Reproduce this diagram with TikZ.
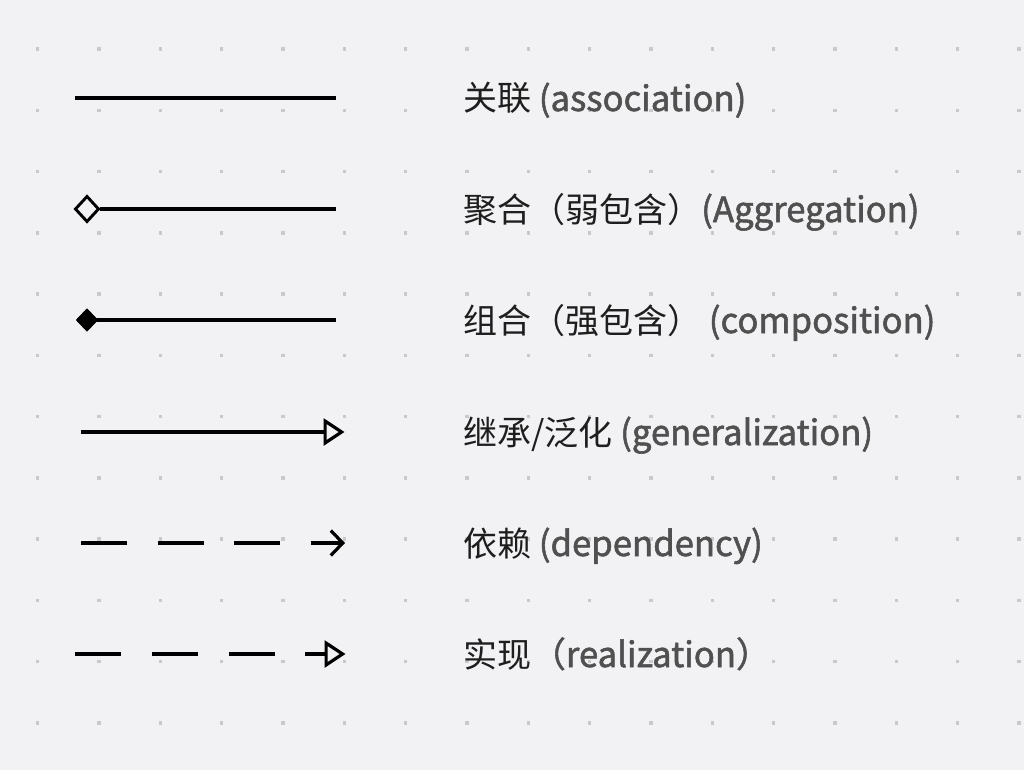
\documentclass[tikz,border=0pt]{standalone}
\usepackage{fontspec}
\usetikzlibrary{arrows.meta}
\newfontfamily\cjk{Noto Sans CJK SC}
\newfontfamily\latf{Noto Sans CJK SC}[FakeBold=1.6]
\definecolor{bgc}{HTML}{F2F2F4}
\definecolor{dotc}{HTML}{C9C9CB}
\definecolor{cjkc}{HTML}{1E1E1E}
\definecolor{latc}{HTML}{505050}
\newcommand{\lat}[1]{{\latf\fontsize{34.7}{40}\selectfont\color{latc}#1}}
\tikzset{
  conn/.style={line width=3.3pt, draw=black},
  dashconn/.style={conn, dash pattern=on 46pt off 30.7pt},
  lbl/.style={anchor=base west, inner sep=0pt, font=\cjk\fontsize{34}{40}\selectfont, text=cjkc},
  dmd/.style={line width=2.9pt, draw=black},
  opentri/.style={-{Triangle[length=21pt, width=27pt, fill=bgc, line width=3.2pt]}},
}
\begin{document}
\begin{tikzpicture}[x=1pt,y=-1pt]
\fill[bgc] (0,0) rectangle (1024,770);
\useasboundingbox (0,0) rectangle (1024,770);
% dot grid
\foreach \i in {0,...,16}{
  \foreach \j in {0,...,11}{
    \fill[dotc] ({37.7+61.33*\i-1.7},{49+61.27*\j-1.7}) rectangle ++(3.4,3.4);
  }
}
% rows
\coordinate (a1s) at (75,98);   \coordinate (a1e) at (336,98);
\coordinate (a2d) at (87,209);  \coordinate (a2e) at (336,209);
\coordinate (a3d) at (87,320);  \coordinate (a3e) at (336,320);
\coordinate (a4s) at (81,432); \coordinate (a4e) at (344.5,432);
\coordinate (a5s) at (81,543);  \coordinate (a5e) at (345,543);
\coordinate (a6s) at (75.3,654); \coordinate (a6e) at (345.5,654);

% association
\draw[conn] (a1s) -- (a1e);
% aggregation
\draw[dmd, fill=bgc] ([xshift=-11.5pt]a2d) -- ([yshift=-12.5pt]a2d) -- ([xshift=11.5pt]a2d) -- ([yshift=12.5pt]a2d) -- cycle;
\draw[conn] ([xshift=12.5pt]a2d) -- (a2e);
% composition
\draw[line width=1pt, fill=black] ([xshift=-10.5pt]a3d) -- ([yshift=-11pt]a3d) -- ([xshift=10.5pt]a3d) -- ([yshift=11pt]a3d) -- cycle;
\draw[conn] ([xshift=10pt]a3d) -- (a3e);
% generalization
\draw[conn, opentri] (a4s) -- (a4e);
% dependency
\draw[dashconn, -{Straight Barb[length=12pt, width=25pt, line width=3.2pt]}] (a5s) -- (a5e);
% realization
\draw[dashconn, opentri] (a6s) -- (a6e);

% labels
\node[lbl] (t1) at (463,111) {关联 \lat{(association)}};
\node[lbl] (t2) at (463,222) {聚合（弱包含）\lat{(Aggregation)}};
\node[lbl] (t3) at (463,333) {组合（强包含） \lat{(composition)}};
\node[lbl] (t4) at (463,445) {继承/泛化 \lat{(generalization)}};
\node[lbl] (t5) at (463,556) {依赖 \lat{(dependency)}};
\node[lbl] (t6) at (463,667) {实现\lat{（realization）}};
\end{tikzpicture}
\end{document}
